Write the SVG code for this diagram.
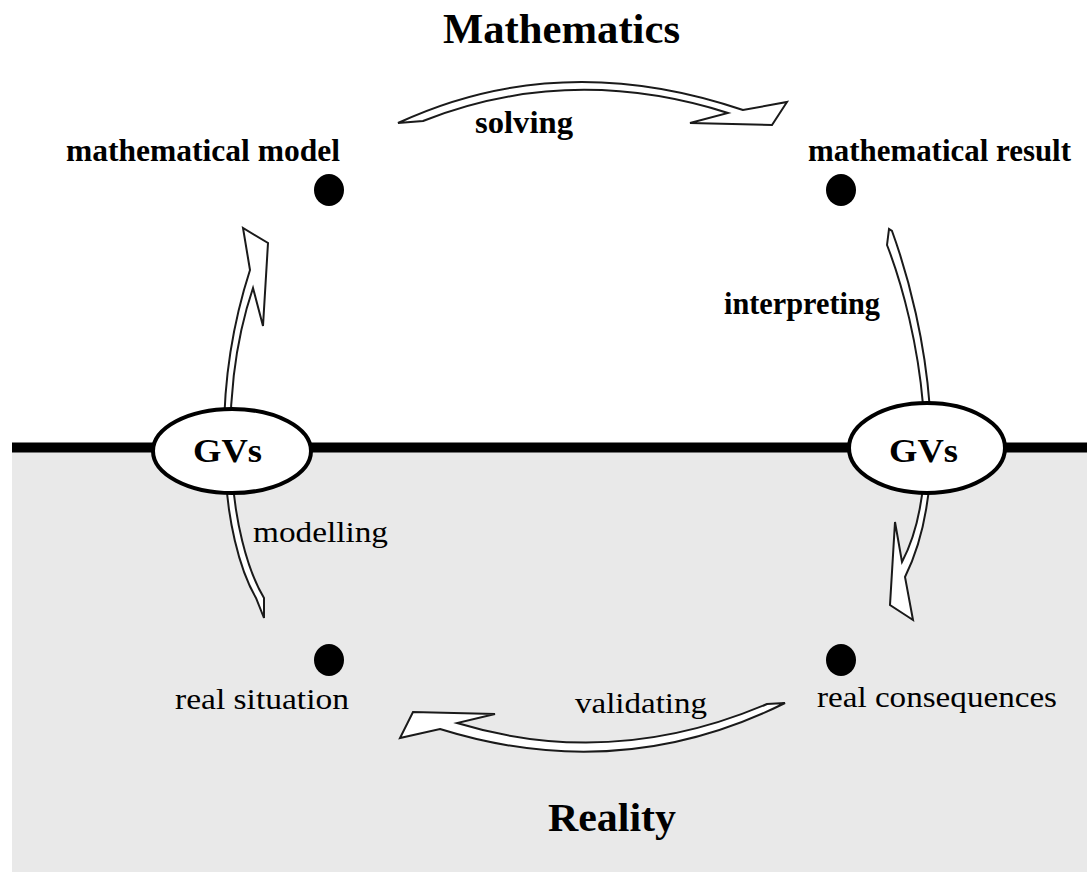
<svg xmlns="http://www.w3.org/2000/svg" width="1087" height="872" viewBox="0 0 1087 872">
<style>
.t{font-family:"Liberation Serif","Times New Roman",serif;fill:#000}
.b{font-weight:bold}
.arr{fill:#fff;stroke:#1a1a1a;stroke-width:2;stroke-linejoin:miter}
.dot{fill:#000}
.gv{fill:#fff;stroke:#000;stroke-width:4}
</style>
<rect x="0" y="0" width="1087" height="872" fill="#fff"/>
<rect id="reality-area" x="12" y="452" width="1075" height="420" fill="#e9e9e9"/>
<line id="divider" x1="12" y1="447.5" x2="1087" y2="447.5" stroke="#000" stroke-width="10"/>
<text class="t b" x="443" y="43" font-size="42" textLength="237" lengthAdjust="spacingAndGlyphs">Mathematics</text>
<text class="t b" x="548" y="831" font-size="40" textLength="128" lengthAdjust="spacingAndGlyphs">Reality</text>
<g id="connectors">
<g id="solving">
<path class="arr" d="M398 123 Q560 48 743 110 L787 102 L772 125 L690 123 L728 113 Q570 63 423 121 Z"/>
<text class="t b" x="475" y="133" font-size="31" textLength="98" lengthAdjust="spacingAndGlyphs">solving</text>
</g>
<g id="interpreting">
<path class="arr" d="M889 229 L887 245 C920 330 945 480 902 562 L895 522 L890 605 L913 620 L905 577 C952 482 928 330 892 231 Z"/>
<text class="t b" x="724" y="314" font-size="31" textLength="156" lengthAdjust="spacingAndGlyphs">interpreting</text>
</g>
<g id="validating">
<path class="arr" d="M785 703 Q620 785 440 729 L400 738 L413 712 L495 714 L457 723 Q612 770 767 704 Z"/>
<text class="t" x="575" y="713" font-size="30" textLength="132" lengthAdjust="spacingAndGlyphs">validating</text>
</g>
<g id="modelling">
<path class="arr" d="M264 618 L256 598 C222 540 208 400 250 270 L243 228 L268 243 L263 326 L253 288 C215 400 229 540 264 598 Z"/>
<text class="t" x="253" y="542" font-size="30" textLength="135" lengthAdjust="spacingAndGlyphs">modelling</text>
</g>
</g>
<g id="gvs-left">
<ellipse class="gv" cx="232" cy="451" rx="79" ry="42"/>
<text class="t b" x="193" y="462" font-size="34" textLength="69" lengthAdjust="spacingAndGlyphs">GVs</text>
</g>
<g id="gvs-right">
<ellipse class="gv" cx="927" cy="448" rx="78" ry="45"/>
<text class="t b" x="889" y="462" font-size="34" textLength="69" lengthAdjust="spacingAndGlyphs">GVs</text>
</g>
<g id="math-model">
<ellipse class="dot" cx="329" cy="190" rx="15" ry="16"/>
<text class="t b" x="66" y="161" font-size="31" textLength="274" lengthAdjust="spacingAndGlyphs">mathematical model</text>
</g>
<g id="math-result">
<ellipse class="dot" cx="841" cy="190" rx="15" ry="16"/>
<text class="t b" x="808" y="161" font-size="31" textLength="263" lengthAdjust="spacingAndGlyphs">mathematical result</text>
</g>
<g id="real-situation">
<ellipse class="dot" cx="329" cy="660" rx="15" ry="16"/>
<text class="t" x="175" y="709" font-size="30" textLength="174" lengthAdjust="spacingAndGlyphs">real situation</text>
</g>
<g id="real-consequences">
<ellipse class="dot" cx="841" cy="660" rx="15" ry="16"/>
<text class="t" x="817" y="707" font-size="30" textLength="240" lengthAdjust="spacingAndGlyphs">real consequences</text>
</g>
</svg>
